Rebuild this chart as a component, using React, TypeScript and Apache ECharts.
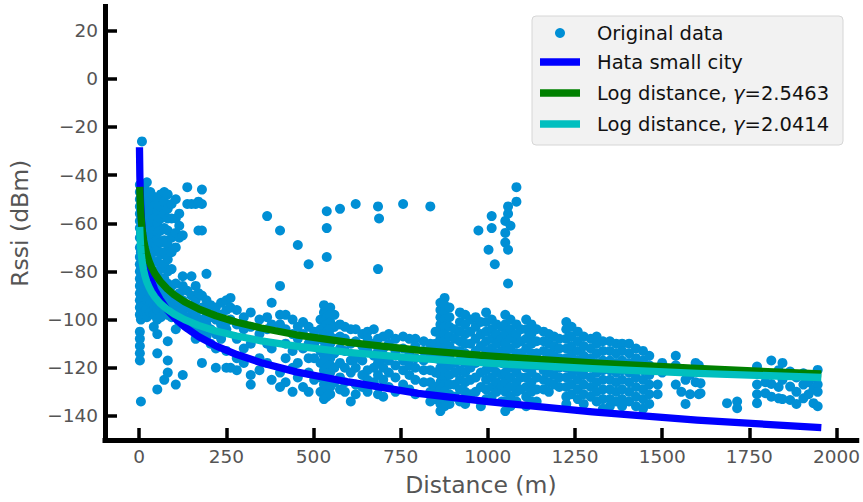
import React, { useEffect, useRef } from "react";
import * as echarts from "echarts";

const xTicks = [0, 250, 500, 750, 1000, 1250, 1500, 1750, 2000];
const yTicks = [-140, -120, -100, -80, -60, -40, -20, 0, 20];

const hataDistance = [1, 2, 3, 4, 6, 8, 10, 13, 17, 22, 28, 35, 45, 60, 80, 100, 130, 170, 220, 280, 350, 450, 600, 800, 1000, 1300, 1600, 1946];
const hataRssi = [-29.9, -40.4, -46.6, -51, -57.1, -61.5, -64.9, -68.9, -72.9, -76.9, -80.5, -83.9, -87.7, -91.6, -95.8, -99.1, -103, -107, -110.9, -114.5, -117.9, -121.7, -125.9, -130.6, -134.1, -138.3, -141.7, -144.8];

const logDistance = [2, 3, 4, 6, 8, 10, 13, 17, 22, 28, 35, 45, 60, 80, 100, 130, 170, 220, 280, 350, 450, 600, 800, 1000, 1300, 1600, 1946];
const logGamma25463 = [-46.4, -50.9, -54.1, -58.6, -61.8, -64.2, -67.1, -70.1, -72.9, -75.6, -78.1, -80.9, -84.0, -87.2, -89.7, -92.6, -95.5, -98.4, -101.1, -103.5, -106.3, -109.5, -112.7, -115.1, -118.0, -120.3, -122.5];
const logGamma20414 = [-63.0, -66.6, -69.2, -72.8, -75.3, -77.3, -79.6, -82.0, -84.3, -86.4, -88.4, -90.6, -93.2, -95.7, -97.7, -100.0, -102.4, -104.7, -106.8, -108.8, -111.0, -113.6, -116.1, -118.1, -120.4, -122.3, -124.0];

// measured points, grouped by distance: [distance (m), rssi values (dBm)]
const measuredColumns: [number, number[]][] = [
  [2, [-44, -47, -50, -53, -56, -59, -62, -66, -70, -74, -77, -80, -83, -86, -89, -92, -95, -98, -105, -108, -111, -114, -117]],
  [5, [-46, -55, -64, -72, -79, -85, -90, -94, -97, -100, -134]],
  [8, [-26, -58, -68, -76, -82, -88, -92]],
  [14, [-45, -50, -55, -60, -64, -68, -73, -78, -83, -88, -91, -94, -97]],
  [22, [-43, -48, -52, -57, -62, -66, -70, -74, -79, -84, -88, -92, -96, -99]],
  [32, [-47, -51, -55, -60, -65, -69, -73, -77, -81, -85, -89, -93, -97]],
  [42, [-49, -53, -58, -63, -68, -72, -76, -82, -86, -90, -94, -98, -103]],
  [52, [-50, -55, -60, -64, -67, -71, -76, -80, -85, -89, -93, -96, -100, -106, -114, -129]],
  [62, [-48, -53, -58, -63, -68, -73, -79, -83, -87, -91, -95, -99]],
  [72, [-47, -51, -56, -62, -67, -72, -77, -83, -88, -92, -96, -125]],
  [82, [-48, -54, -58, -63, -69, -75, -80, -85, -90, -94, -98, -109, -117, -122]],
  [93, [-52, -58, -66, -72, -79, -86, -91, -95, -99]],
  [105, [-50, -58, -64, -70, -85, -90, -94, -98, -104, -127]],
  [115, [-56, -61, -66, -89, -93, -97, -101]],
  [125, [-65, -82, -86, -92, -96, -100, -123]],
  [138, [-45, -52, -88, -94, -99, -103]],
  [150, [-52, -82, -90, -96, -100, -104]],
  [162, [-52, -86, -92, -98, -103, -108]],
  [170, [-51, -63, -89, -96, -101, -106]],
  [180, [-46, -52, -63, -90, -95, -100, -104, -118]],
  [193, [-81, -92, -97, -102, -107]],
  [205, [-94, -99, -104, -110]],
  [220, [-95, -100, -106, -112, -120]],
  [235, [-93, -98, -102, -108]],
  [250, [-92, -96, -101, -104, -113, -120]],
  [262, [-91, -95, -100, -120]],
  [280, [-96, -102, -108, -116, -121]],
  [300, [-99, -104, -112, -118]],
  [320, [-97, -103, -110, -123, -127]],
  [345, [-100, -106, -116, -121]],
  [367, [-57, -99, -104, -110, -118]],
  [380, [-93, -102, -112, -125]],
  [404, [-63, -86, -98, -102, -122, -128]],
  [420, [-98, -104, -110, -116, -126]],
  [440, [-100, -106, -113, -120, -130]],
  [455, [-69, -103, -108, -118, -124]],
  [470, [-101, -106, -112, -128]],
  [486, [-77, -103, -110, -116, -122, -130]],
  [502, [-105, -110, -116, -125]],
  [520, [-100, -104, -108, -113, -118, -124, -130]],
  [530, [-94, -97, -100, -103, -106, -109, -112, -115, -118, -121, -124, -127, -130, -133]],
  [538, [-55, -62, -74, -96, -99, -102, -105, -108, -111, -114, -117, -120, -123, -126, -129, -132]],
  [548, [-95, -98, -101, -104, -107, -110, -113, -116, -119, -122, -125, -128, -131]],
  [560, [-98, -103, -108, -114, -120, -126]],
  [576, [-54, -102, -107, -112, -118, -124, -129]],
  [590, [-103, -108, -113, -120, -126, -130]],
  [607, [-104, -110, -117, -122, -134]],
  [621, [-52, -104, -109, -116, -120, -127, -131]],
  [640, [-106, -111, -117, -123, -128]],
  [655, [-105, -108, -113, -121, -125, -130]],
  [673, [-104, -110, -115, -120, -126]],
  [685, [-53, -79, -108, -113, -118, -123, -131]],
  [688, [-58]],
  [700, [-107, -112, -116, -120, -125, -132]],
  [716, [-106, -110, -117, -122, -128]],
  [735, [-108, -113, -119, -124, -130]],
  [757, [-52, -107, -112, -117, -121, -127]],
  [775, [-108, -114, -119, -123, -129]],
  [792, [-108, -111, -116, -120, -125, -131]],
  [816, [-109, -113, -117, -121, -126]],
  [835, [-53, -110, -115, -121, -126, -130, -134]],
  [850, [-105, -110, -116, -122, -128, -133]],
  [864, [-93, -96, -99, -102, -105, -108, -111, -114, -117, -120, -123, -126, -129, -132, -135, -138]],
  [876, [-91, -94, -97, -100, -103, -106, -109, -112, -115, -118, -121, -124, -127, -130, -133, -136]],
  [890, [-95, -99, -103, -107, -111, -115, -119, -123, -127, -131, -135]],
  [905, [-104, -108, -113, -118, -122, -127, -132]],
  [920, [-97, -101, -105, -109, -113, -117, -121, -125, -129, -134]],
  [935, [-98, -102, -106, -110, -114, -118, -122, -126, -130, -135]],
  [950, [-100, -105, -110, -115, -120, -125, -131]],
  [965, [-99, -103, -108, -113, -118, -124, -130]],
  [973, [-63]],
  [980, [-101, -106, -111, -116, -122, -128, -136]],
  [995, [-97, -101, -105, -109, -113, -117, -121, -125, -129, -133]],
  [1002, [-71]],
  [1011, [-57, -62, -100, -104, -108, -112, -116, -120, -124, -128, -132]],
  [1020, [-77]],
  [1025, [-102, -106, -110, -114, -118, -122, -126, -130]],
  [1040, [-103, -108, -113, -118, -123, -128, -134]],
  [1050, [-59, -64, -68, -98, -102, -106, -110, -114, -118, -122, -126, -130, -134, -138]],
  [1058, [-53, -56, -71, -85]],
  [1065, [-61, -100, -104, -108, -112, -116, -120, -124, -128, -132, -136]],
  [1082, [-45, -51, -102, -106, -110, -114, -118, -122, -126, -130, -134]],
  [1095, [-104, -109, -114, -119, -124, -129]],
  [1110, [-100, -104, -108, -112, -116, -120, -124, -128, -132, -136]],
  [1125, [-102, -106, -110, -114, -118, -122, -126, -130, -134]],
  [1140, [-104, -109, -114, -119, -124, -129, -134]],
  [1160, [-105, -109, -113, -117, -121, -125, -129]],
  [1175, [-106, -110, -114, -118, -122, -126, -130]],
  [1190, [-107, -111, -115, -119, -123, -127]],
  [1205, [-108, -112, -116, -120, -124, -128]],
  [1225, [-101, -104, -108, -112, -116, -120, -124, -128, -132, -135]],
  [1240, [-103, -107, -111, -115, -119, -123, -127, -131]],
  [1258, [-105, -109, -113, -117, -121, -125, -129, -133]],
  [1275, [-107, -111, -115, -119, -123, -127, -131, -135]],
  [1295, [-108, -112, -116, -120, -124, -128, -132]],
  [1312, [-107, -110, -114, -118, -122, -126, -130, -134]],
  [1330, [-109, -113, -117, -121, -125, -129, -133, -137]],
  [1350, [-109, -113, -117, -121, -125, -129, -133, -136]],
  [1368, [-110, -114, -118, -122, -126, -130, -134]],
  [1385, [-110, -113, -117, -121, -125, -129, -133, -136]],
  [1405, [-110, -114, -118, -122, -126, -130, -134]],
  [1425, [-112, -116, -120, -124, -128, -132, -136]],
  [1445, [-113, -117, -121, -125, -129, -133, -137]],
  [1463, [-115, -119, -123, -127, -131, -135]],
  [1487, [-120, -127, -131]],
  [1500, [-118, -122]],
  [1539, [-115, -119, -127]],
  [1555, [-121, -130]],
  [1567, [-125, -135]],
  [1580, [-123, -131]],
  [1596, [-118, -126]],
  [1605, [-119, -131]],
  [1610, [-126.4, -130.6]],
  [1686, [-134.7]],
  [1715, [-134, -136.8]],
  [1772, [-119.5, -127, -131, -134.7]],
  [1796, [-126, -130.6]],
  [1813, [-117, -126.7, -132]],
  [1834, [-121, -128, -132.7]],
  [1845, [-118, -125, -133]],
  [1867, [-121.6, -127.8, -133.4]],
  [1885, [-124, -130, -135]],
  [1905, [-122.3, -127, -132.7]],
  [1920, [-126, -131]],
  [1934, [-124, -129, -134.7]],
  [1946, [-120.9, -127, -130, -136]],
];

const FONT = "DejaVu Sans";
const LABEL_COLOR = "#555555";
const fmt = (v: number) => (v < 0 ? "\u2212" + Math.abs(v) : String(v));

export default function App() {
  const ref = useRef<HTMLDivElement>(null);
  useEffect(() => {
    const chart = echarts.init(ref.current!, null, { renderer: "svg" });
    const scatterData = measuredColumns.flatMap(([d, vs]) => vs.map((v) => [d, v]));
    const pairs = (xs: number[], ys: number[]) => xs.map((x, i) => [x, ys[i]]);
    const legendText = (y: number, text: string, rich = false) => ({
      type: "text",
      x: 597,
      y,
      z: 101,
      style: {
        text,
        fontFamily: FONT,
        fontSize: 19.5,
        fill: "#111111",
        verticalAlign: "middle",
        align: "left",
        rich: rich ? { g: { fontStyle: "italic", fontFamily: FONT, fontSize: 19.5, fill: "#111111" } } : undefined,
      },
    });
    const legendLine = (y: number, color: string) => ({
      type: "rect",
      z: 101,
      shape: { x: 540, y: y - 3.65, width: 40, height: 7.3 },
      style: { fill: color },
    });
    const axisCommon = {
      axisLine: { show: true, onZero: false, lineStyle: { color: "#000", width: 5, cap: "square" } },
      axisTick: { show: true, inside: true, length: 12, lineStyle: { color: "#000", width: 3.5 } },
      splitLine: { show: false },
      nameTextStyle: { fontFamily: FONT, fontSize: 23.5, color: LABEL_COLOR },
      nameLocation: "middle",
      nameMoveOverlap: false,
    };
    chart.setOption({
      animation: false,
      backgroundColor: "#ffffff",
      grid: { left: 103, right: 4.3, top: 6.6, bottom: 61.6, containLabel: false },
      xAxis: {
        ...axisCommon,
        type: "value",
        min: -98,
        max: 2058,
        name: "Distance (m)",
        nameGap: 33,
        axisTick: { ...axisCommon.axisTick, customValues: xTicks },
        axisLabel: { customValues: xTicks, formatter: fmt, fontFamily: FONT, fontSize: 18.5, color: LABEL_COLOR, margin: 7 },
      },
      yAxis: {
        ...axisCommon,
        type: "value",
        min: -150,
        max: 30,
        name: "Rssi (dBm)",
        nameGap: 73,
        axisTick: { ...axisCommon.axisTick, customValues: yTicks },
        axisLabel: { customValues: yTicks, formatter: fmt, fontFamily: FONT, fontSize: 18.5, color: LABEL_COLOR, margin: 7 },
      },
      series: [
        {
          name: "Original data",
          type: "scatter",
          data: scatterData,
          symbol: "circle",
          symbolSize: 10,
          itemStyle: { color: "#008fd5", opacity: 1 },
          silent: true,
        },
        {
          name: "Hata small city",
          type: "line",
          data: pairs(hataDistance, hataRssi),
          showSymbol: false,
          lineStyle: { color: "#0000ff", width: 7.3, cap: "square", join: "round" },
          silent: true,
        },
        {
          name: "Log distance, γ=2.5463",
          type: "line",
          data: pairs(logDistance, logGamma25463),
          showSymbol: false,
          lineStyle: { color: "#008000", width: 7.3, cap: "square", join: "round" },
          silent: true,
        },
        {
          name: "Log distance, γ=2.0414",
          type: "line",
          data: pairs(logDistance, logGamma20414),
          showSymbol: false,
          lineStyle: { color: "#00bfbf", width: 7.3, cap: "square", join: "round" },
          silent: true,
        },
      ],
      graphic: [
        {
          type: "rect",
          z: 100,
          shape: { x: 532, y: 16, width: 311, height: 129, r: 4 },
          style: { fill: "#f2f2f2", stroke: "#d6d6d6", lineWidth: 1 },
        },
        { type: "circle", z: 101, shape: { cx: 560, cy: 33, r: 5 }, style: { fill: "#008fd5" } },
        legendLine(62, "#0000ff"),
        legendLine(93, "#008000"),
        legendLine(124, "#00bfbf"),
        legendText(33, "Original data"),
        legendText(62, "Hata small city"),
        legendText(93, "Log distance, {g|γ}=2.5463", true),
        legendText(124, "Log distance, {g|γ}=2.0414", true),
      ],
    });
    return () => chart.dispose();
  }, []);
  return <div ref={ref} style={{ position: "fixed", left: 0, top: 0, width: 863, height: 502 }} />;
}
